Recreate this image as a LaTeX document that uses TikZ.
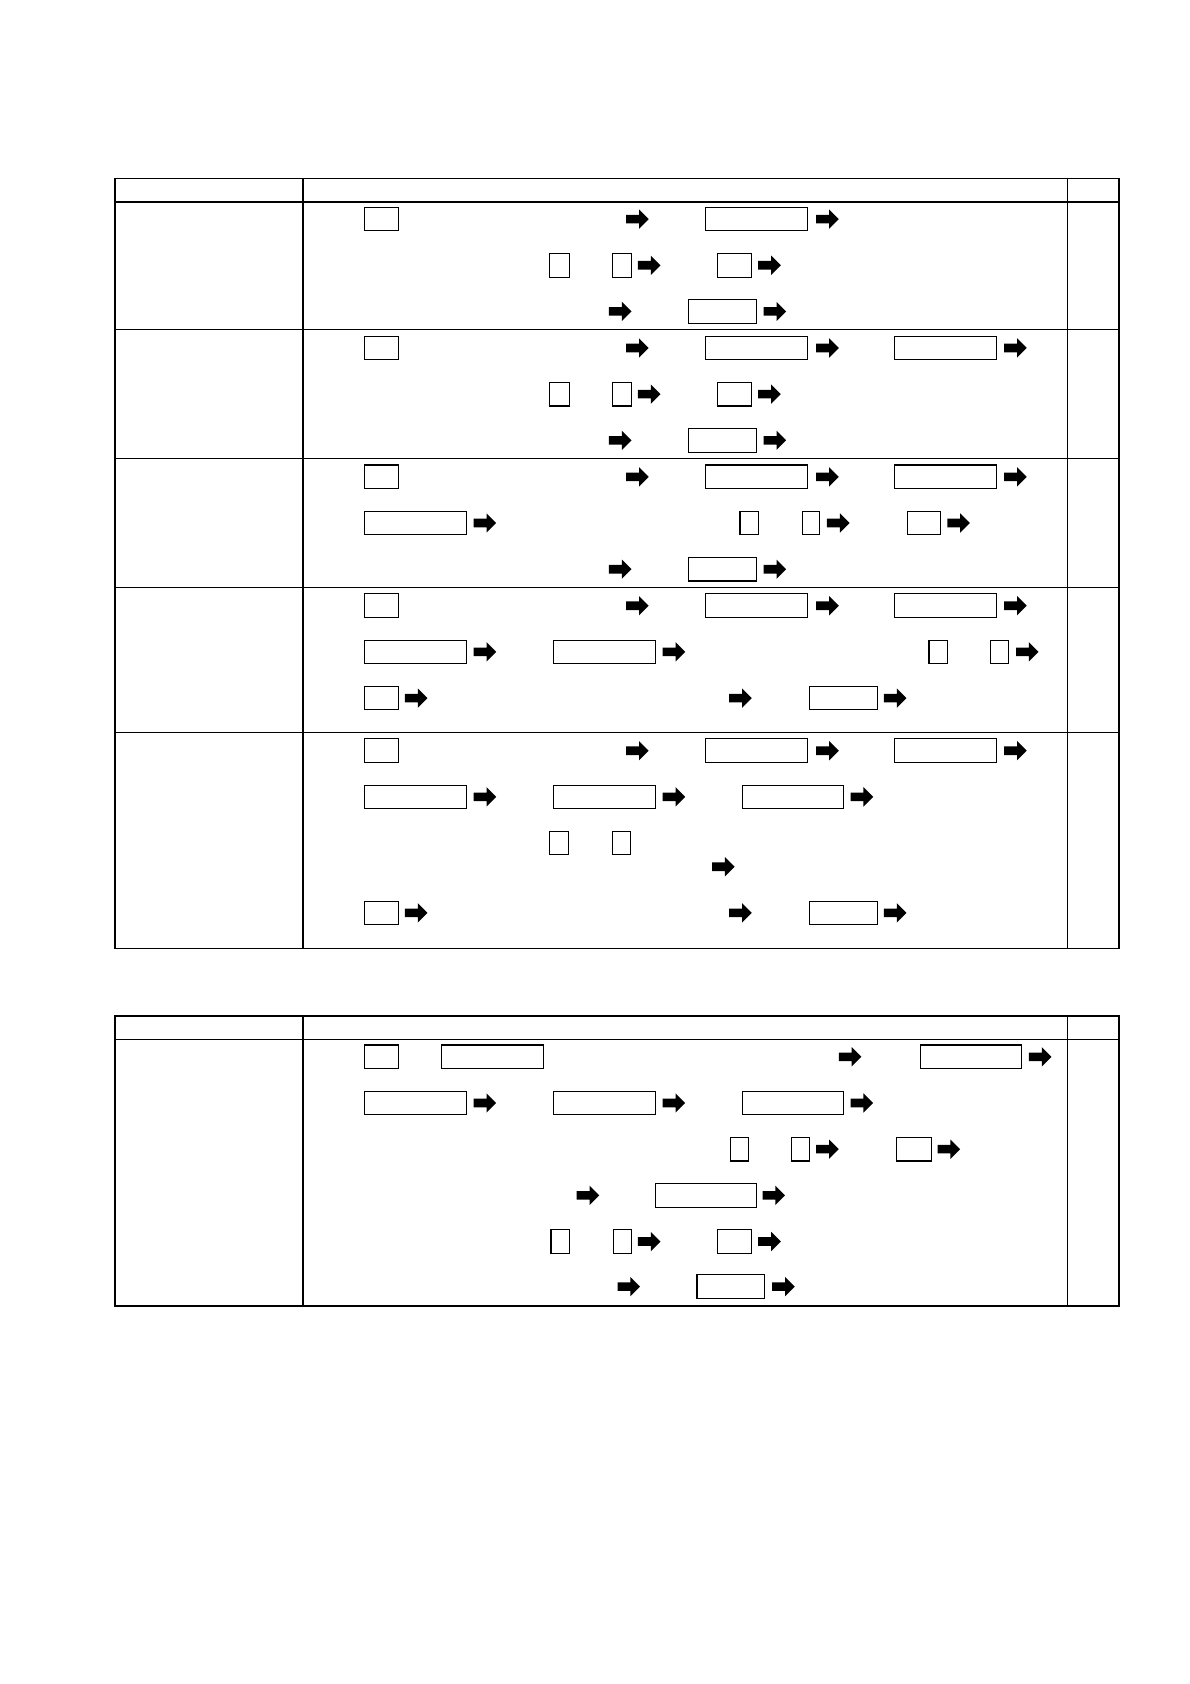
\documentclass[tikz,border=0pt]{standalone}
\usepackage{tikz}
\tikzset{
  rule/.style={line width=0.75pt},
  fld/.style={line width=0.55pt},
}
% blank field: left x, right x, row y
\newcommand{\fld}[3]{\draw[fld] (#1,#3-11) rectangle (#2,#3+11);}
% block arrow: left x, row y
\newcommand{\blkarr}[2]{\fill (#1,#2-4) -- ++(12,0) -- ++(0,-5) -- ++(9,9) -- ++(-9,9) -- ++(0,-5) -- ++(-12,0) -- cycle;}

\begin{document}
\begin{tikzpicture}[x=0.537pt,y=-0.537pt]
\useasboundingbox (0,0) rectangle (1108,1568);
% upper table
\draw[rule] (107,166) rectangle (1042,883);
\foreach \y in {188,307,427,547,682} \draw[rule] (107,\y)--(1042,\y);
\draw[rule] (282,166)--(282,883);
\draw[fld] (994,166)--(994,883);
% first line of every section
\fld{339}{371}{204} \blkarr{583}{204} \fld{657}{752}{204} \blkarr{760}{204}
\foreach \y in {324,444,564,699}{
  \fld{339}{371}{\y} \blkarr{583}{\y} \fld{657}{752}{\y} \blkarr{760}{\y}
  \fld{833}{928}{\y} \blkarr{935}{\y}
}
% sections 1 and 2
\foreach \y in {247,367}{
  \fld{512}{530}{\y} \fld{570}{588}{\y} \blkarr{594}{\y} \fld{668}{700}{\y} \blkarr{706}{\y}
}
\foreach \y in {290,410,530}{
  \blkarr{567}{\y} \fld{641}{704}{\y} \blkarr{711}{\y}
}
% section 3
\fld{339}{434}{487} \blkarr{441}{487}
\fld{689}{706}{487} \fld{747}{763}{487} \blkarr{770}{487} \fld{845}{876}{487} \blkarr{882}{487}
% section 4
\fld{339}{434}{607} \blkarr{441}{607} \fld{515}{610}{607} \blkarr{617}{607}
\fld{865}{882}{607} \fld{922}{939}{607} \blkarr{946}{607}
% section 5
\fld{339}{434}{742} \blkarr{441}{742} \fld{515}{610}{742} \blkarr{617}{742}
\fld{691}{785}{742} \blkarr{792}{742}
\fld{512}{529}{785} \fld{570}{587}{785}
\blkarr{663}{807}
\foreach \y in {650,850}{
  \fld{339}{371}{\y} \blkarr{377}{\y} \blkarr{679}{\y} \fld{754}{817}{\y} \blkarr{823}{\y}
}
% lower table
\draw[rule] (107,946) rectangle (1042,1216);
\draw[rule] (107,968)--(1042,968);
\draw[rule] (282,946)--(282,1216);
\draw[fld] (994,946)--(994,1216);
\fld{339}{371}{984} \fld{411}{506}{984} \blkarr{781}{984} \fld{857}{951}{984} \blkarr{958}{984}
\fld{339}{434}{1027} \blkarr{441}{1027} \fld{515}{610}{1027} \blkarr{617}{1027}
\fld{691}{785}{1027} \blkarr{792}{1027}
\fld{680}{697}{1070} \fld{737}{754}{1070} \blkarr{760}{1070} \fld{835}{867}{1070} \blkarr{873}{1070}
\blkarr{537}{1113} \fld{610}{704}{1113} \blkarr{710}{1113}
\fld{513}{530}{1156} \fld{571}{588}{1156} \blkarr{594}{1156} \fld{668}{700}{1156} \blkarr{706}{1156}
\blkarr{575}{1198} \fld{649}{712}{1198} \blkarr{719}{1198}
\end{tikzpicture}
\end{document}
